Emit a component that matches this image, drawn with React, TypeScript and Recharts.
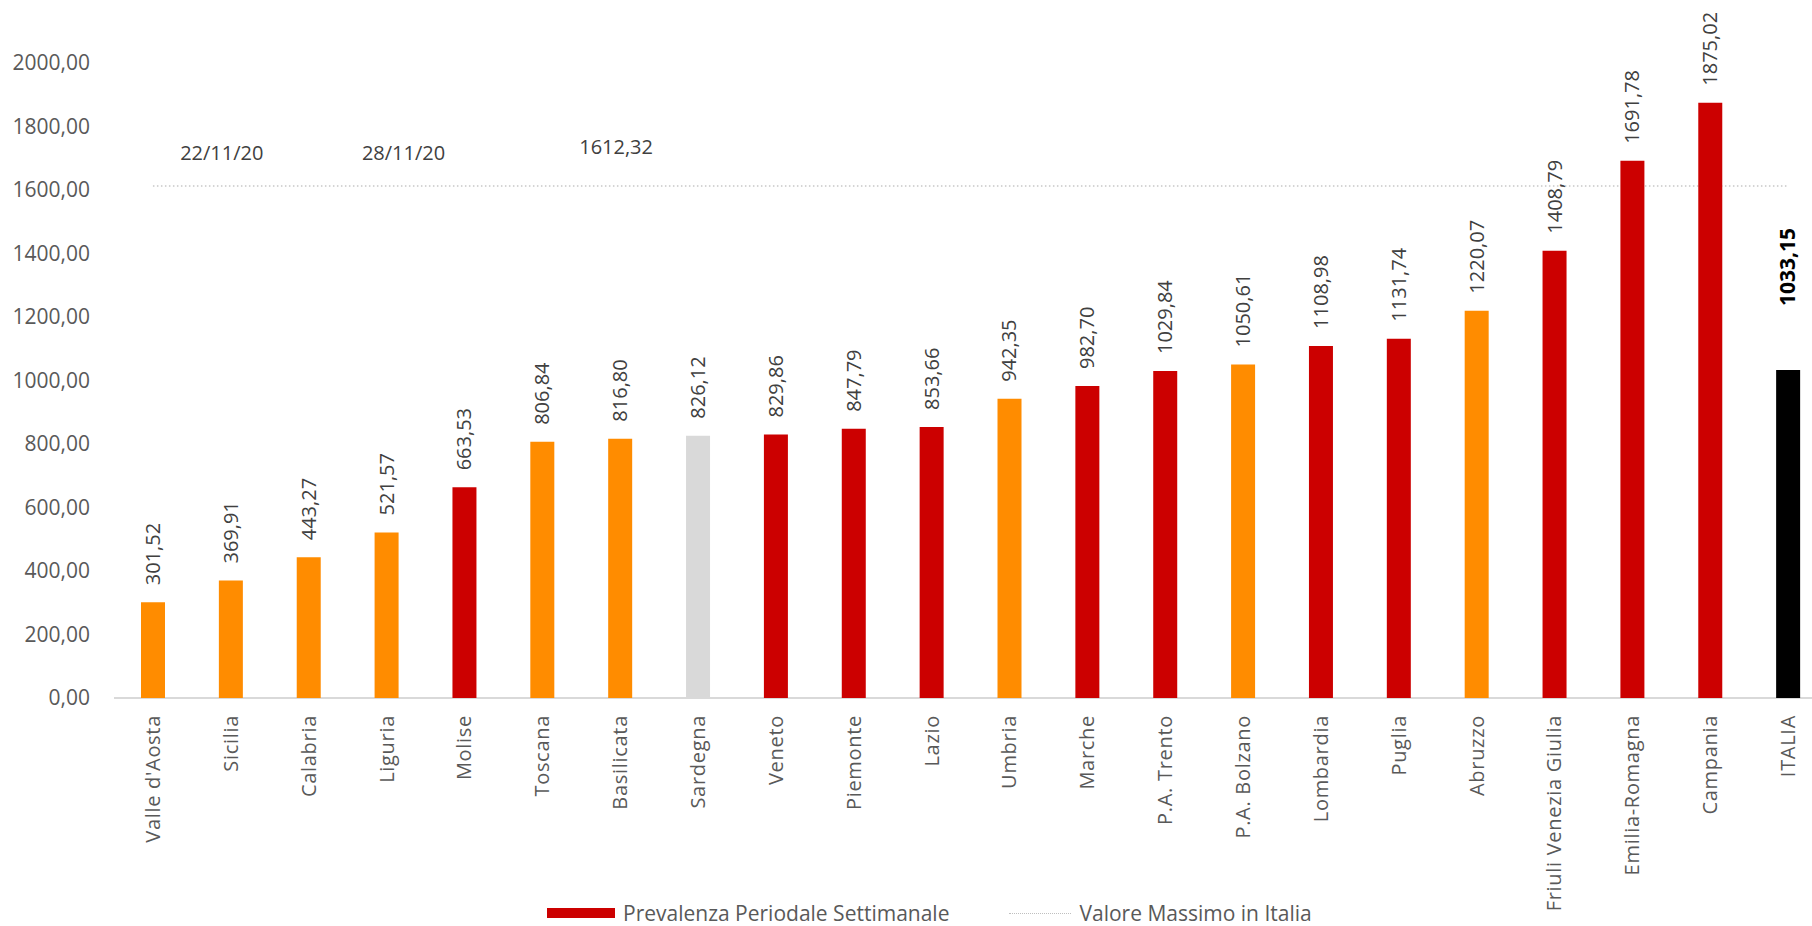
import React from 'react';
import { ComposedChart, BarChart, Bar, Line, Cell, XAxis, YAxis, Legend, LabelList } from 'recharts';

// regioni ordinate per prevalenza settimanale
const regions = [
  "Valle d'Aosta", 'Sicilia', 'Calabria', 'Liguria', 'Molise', 'Toscana', 'Basilicata',
  'Sardegna', 'Veneto', 'Piemonte', 'Lazio', 'Umbria', 'Marche', 'P.A. Trento',
  'P.A. Bolzano', 'Lombardia', 'Puglia', 'Abruzzo', 'Friuli Venezia Giulia',
  'Emilia-Romagna', 'Campania', 'ITALIA',
];

const prevalenza = [
  301.52, 369.91, 443.27, 521.57, 663.53, 806.84, 816.8, 826.12, 829.86, 847.79, 853.66,
  942.35, 982.7, 1029.84, 1050.61, 1108.98, 1131.74, 1220.07, 1408.79, 1691.78, 1875.02,
  1033.15,
];

// zona di rischio per colore barra
const zone = [
  'arancione', 'arancione', 'arancione', 'arancione', 'rossa', 'arancione', 'arancione',
  'gialla', 'rossa', 'rossa', 'rossa', 'arancione', 'rossa', 'rossa', 'arancione', 'rossa',
  'rossa', 'arancione', 'rossa', 'rossa', 'rossa', 'totale',
];

const valoreMassimo = 1612.32;

const yTicks = [0, 200, 400, 600, 800, 1000, 1200, 1400, 1600, 1800, 2000];

// note di testo sopra la linea del massimo
const annotations = [
  { region: 'Sicilia', text: '22/11/20', dx: -9, dy: -33 },
  { region: 'Liguria', text: '28/11/20', dx: 17, dy: -33 },
  { region: 'Basilicata', text: '1612,32', dx: -4, dy: -39 },
];

const ZONE_COLORS: Record<string, string> = {
  arancione: '#FF8C00',
  rossa: '#CC0000',
  gialla: '#D9D9D9',
  totale: '#000000',
};

const FONT = '"Open Sans", "Noto Sans", sans-serif';
const W = 1830;
const H = 926;
const MARGIN = { top: 63, right: 3, left: 0, bottom: 0 };

const data = regions.map((name, i) => ({
  name,
  value: prevalenza[i],
  massimo: valoreMassimo,
}));

const fmt = (v: number) => v.toFixed(2).replace('.', ',');

const ValueLabel = (props: any) => {
  const { x, y, width, value, index } = props;
  const isTotal = regions[index] === 'ITALIA';
  const cx = x + width / 2;
  const top = y - (isTotal ? 64 : 17);
  return (
    <text
      x={cx}
      y={top}
      transform={`rotate(-90, ${cx}, ${top})`}
      textAnchor="start"
      dy="0.35em"
      fontSize={isTotal ? 21 : 20}
      fontWeight={isTotal ? 700 : 400}
      fill={isTotal ? '#000000' : '#404040'}
      fontFamily={FONT}
    >
      {fmt(value)}
    </text>
  );
};

const AnnotationLabel = (props: any) => {
  const { x, y, index } = props;
  const note = annotations.find((a) => a.region === regions[index]);
  if (!note) return null;
  return (
    <text
      x={x + note.dx}
      y={y + note.dy}
      textAnchor="middle"
      dy="0.35em"
      fontSize={20}
      fill="#404040"
      fontFamily={FONT}
    >
      {note.text}
    </text>
  );
};

const CategoryTick = (props: any) => {
  const { x, y, payload } = props;
  return (
    <text
      x={x}
      y={y}
      transform={`rotate(-90, ${x}, ${y})`}
      textAnchor="end"
      dy="0.35em"
      fontSize={20}
      letterSpacing={0.7}
      fill="#595959"
      fontFamily={FONT}
    >
      {payload.value}
    </text>
  );
};

const renderLegend = () => (
  <div
    style={{
      position: 'relative',
      height: 38,
      fontFamily: FONT,
      fontSize: 21,
      color: '#595959',
    }}
  >
    <div style={{ position: 'absolute', left: 547, top: 11, display: 'flex', alignItems: 'center' }}>
      <span style={{ display: 'inline-block', width: 68, height: 10, background: '#CC0000', marginRight: 8 }} />
      <span>Prevalenza Periodale Settimanale</span>
      <span
        style={{
          display: 'inline-block',
          width: 62,
          height: 0,
          borderTop: '1.5px dotted #BFBFBF',
          marginLeft: 60,
          marginRight: 8,
        }}
      />
      <span>Valore Massimo in Italia</span>
    </div>
  </div>
);

export default function App() {
  return (
    <div
      style={{
        position: 'absolute',
        left: 0,
        top: 0,
        width: 1812,
        height: 926,
        overflow: 'hidden',
        background: '#ffffff',
      }}
    >
      {/* livello inferiore: assi, legenda e linea del massimo (dietro le barre) */}
      <div style={{ position: 'absolute', left: 0, top: 0 }}>
        <ComposedChart width={W} height={H} data={data} margin={MARGIN}>
          <XAxis
            dataKey="name"
            scale="band"
            interval={0}
            tick={<CategoryTick />}
            tickLine={false}
            tickSize={0}
            tickMargin={17}
            height={190}
            axisLine={{ stroke: '#D9D9D9', strokeWidth: 2 }}
          />
          <YAxis
            domain={[0, 2000]}
            ticks={yTicks}
            width={114}
            axisLine={false}
            tickLine={false}
            tickSize={0}
            tickMargin={24}
            tickFormatter={fmt}
            tick={{ fontSize: 21, fill: '#595959', fontFamily: FONT }}
          />
          <Legend verticalAlign="bottom" height={38} content={renderLegend} />
          <Line
            dataKey="massimo"
            stroke="#C8C8C8"
            strokeWidth={1.5}
            strokeDasharray="1.5 2.5"
            dot={false}
            activeDot={false}
            isAnimationActive={false}
            name="Valore Massimo in Italia"
          >
            <LabelList dataKey="massimo" content={<AnnotationLabel />} />
          </Line>
        </ComposedChart>
      </div>
      {/* livello superiore: barre con le etichette dei valori */}
      <div style={{ position: 'absolute', left: 0, top: 0 }}>
        <BarChart width={W} height={H} data={data} margin={{ ...MARGIN, bottom: 38 }}>
          <XAxis dataKey="name" scale="band" interval={0} tick={false} tickLine={false} axisLine={false} height={190} />
          <YAxis domain={[0, 2000]} ticks={yTicks} width={114} tick={false} tickLine={false} axisLine={false} />
          <Bar dataKey="value" barSize={24} isAnimationActive={false} name="Prevalenza Periodale Settimanale">
            {data.map((d, i) => (
              <Cell key={d.name} fill={ZONE_COLORS[zone[i]]} />
            ))}
            <LabelList dataKey="value" content={<ValueLabel />} />
          </Bar>
        </BarChart>
      </div>
    </div>
  );
}
